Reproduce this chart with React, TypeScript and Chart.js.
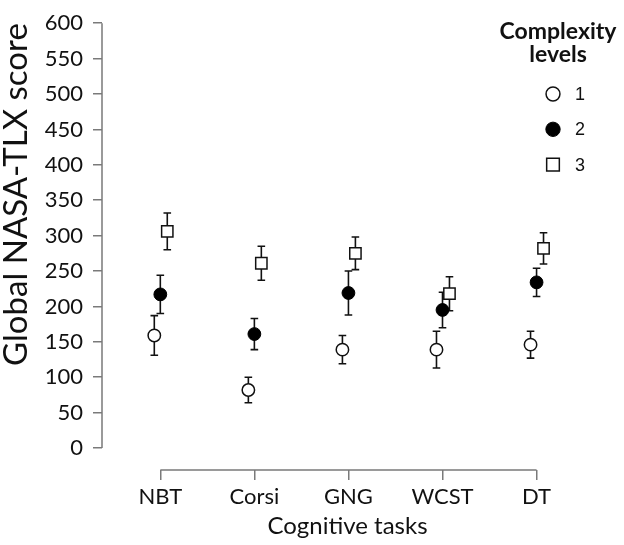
import { useEffect, useRef } from 'react';
import { Chart, registerables } from 'chart.js';
import { drawPoint } from 'chart.js/helpers';

Chart.register(...registerables);

// Cognitive tasks (x categories) and complexity levels
const tasks = ['NBT', 'Corsi', 'GNG', 'WCST', 'DT'];
const levels = ['1', '2', '3'];

// Global NASA-TLX score, mean and error per task
const level1Mean = [159, 82, 139, 139, 146];
const level1Err = [28, 18, 20, 26, 19];
const level2Mean = [217, 161, 219, 195, 234];
const level2Err = [27, 22, 31, 25, 20];
const level3Mean = [306, 261, 275, 218, 282];
const level3Err = [26, 24, 23, 24, 22];

const yTicks = [0, 50, 100, 150, 200, 250, 300, 350, 400, 450, 500, 550, 600];

const errors = [level1Err, level2Err, level3Err];
const jitter = [-0.064, 0, 0.074];
const axisColor = '#7a7a7a';
const fontFamily = 'Lato, "Open Sans", sans-serif';

const toPoints = (means: number[], k: number) =>
  means.map((v, i) => ({ x: i + jitter[k], y: v }));

const errorBars = {
  id: 'errorBars',
  beforeDatasetsDraw(chart: Chart) {
    const { ctx } = chart;
    const y = chart.scales.y;
    ctx.save();
    ctx.strokeStyle = '#111';
    ctx.lineWidth = 1.6;
    chart.data.datasets.forEach((ds, i) => {
      const meta = chart.getDatasetMeta(i);
      meta.data.forEach((el: any, j) => {
        const p = ds.data[j] as { x: number; y: number };
        const e = errors[i][j];
        const top = y.getPixelForValue(p.y + e);
        const bot = y.getPixelForValue(p.y - e);
        ctx.beginPath();
        ctx.moveTo(el.x, top);
        ctx.lineTo(el.x, bot);
        ctx.moveTo(el.x - 3.8, top);
        ctx.lineTo(el.x + 3.8, top);
        ctx.moveTo(el.x - 3.8, bot);
        ctx.lineTo(el.x + 3.8, bot);
        ctx.stroke();
      });
    });
    ctx.restore();
  },
};

const axisLines = {
  id: 'axisLines',
  beforeDatasetsDraw(chart: Chart) {
    const { ctx, chartArea } = chart;
    const { x, y } = chart.scales;
    ctx.save();
    ctx.strokeStyle = axisColor;
    ctx.lineWidth = 1.5;
    ctx.beginPath();
    ctx.moveTo(chartArea.left, y.getPixelForValue(yTicks[yTicks.length - 1]));
    ctx.lineTo(chartArea.left, y.getPixelForValue(yTicks[0]));
    ctx.moveTo(x.getPixelForValue(0), chartArea.bottom);
    ctx.lineTo(x.getPixelForValue(tasks.length - 1), chartArea.bottom);
    ctx.stroke();
    ctx.restore();
  },
};

// legend in the top right corner, drawn from the datasets' own styles
const cornerLegend = {
  id: 'cornerLegend',
  afterDraw(chart: Chart) {
    const { ctx } = chart;
    ctx.save();
    ctx.fillStyle = '#111';
    ctx.textAlign = 'center';
    ctx.textBaseline = 'alphabetic';
    ctx.font = `bold 23px ${fontFamily}`;
    ctx.fillText('Complexity', 558, 39);
    ctx.fillText('levels', 558, 62);
    ctx.font = '18px "Liberation Sans", Arial, sans-serif';
    ctx.textAlign = 'left';
    ctx.textBaseline = 'middle';
    chart.data.datasets.forEach((ds: any, i) => {
      const cy = 94 + i * 35.3;
      ctx.fillStyle = ds.backgroundColor;
      ctx.strokeStyle = ds.borderColor;
      ctx.lineWidth = ds.borderWidth;
      drawPoint(ctx, {
        pointStyle: ds.pointStyle,
        rotation: 0,
        radius: ds.pointRadius * 1.12,
        borderWidth: ds.borderWidth,
      }, 553, cy);
      ctx.fillStyle = '#111';
      ctx.fillText(ds.label, 575, cy + 1);
    });
    ctx.restore();
  },
};

export default function App() {
  const chartRef = useRef<HTMLCanvasElement>(null);
  const chartInstance = useRef<Chart | null>(null);

  useEffect(() => {
    if (!chartRef.current) return;
    if (chartInstance.current) chartInstance.current.destroy();

    chartInstance.current = new Chart(chartRef.current, {
      type: 'scatter',
      data: {
        datasets: [
          {
            label: levels[0],
            data: toPoints(level1Mean, 0),
            pointStyle: 'circle',
            pointRadius: 6.2,
            backgroundColor: '#ffffff',
            borderColor: '#111111',
            borderWidth: 1.5,
          },
          {
            label: levels[1],
            data: toPoints(level2Mean, 1),
            pointStyle: 'circle',
            pointRadius: 6.4,
            backgroundColor: '#000000',
            borderColor: '#000000',
            borderWidth: 1,
          },
          {
            label: levels[2],
            data: toPoints(level3Mean, 2),
            pointStyle: 'rect',
            pointRadius: 8,
            backgroundColor: '#ffffff',
            borderColor: '#111111',
            borderWidth: 1.5,
          },
        ],
      },
      options: {
        animation: false,
        responsive: true,
        maintainAspectRatio: false,
        events: [],
        layout: { padding: { top: 13, right: 31, left: 0, bottom: 0 } },
        plugins: {
          legend: { display: false },
          tooltip: { enabled: false },
        },
        scales: {
          x: {
            type: 'linear',
            position: 'bottom',
            min: -0.62,
            max: 4.6,
            afterFit: (scale) => {
              scale.height = 75;
            },
            afterBuildTicks: (scale) => {
              scale.ticks = tasks.map((_, i) => ({ value: i }));
            },
            border: { display: false },
            grid: {
              drawOnChartArea: false,
              drawTicks: true,
              tickLength: 10,
              color: axisColor,
              lineWidth: 1.5,
            },
            ticks: {
              padding: 4,
              color: '#111',
              font: { family: fontFamily, size: 22 },
              callback: (v) => tasks[v as number],
            },
            title: {
              display: true,
              text: 'Cognitive tasks',
              color: '#111',
              font: { family: fontFamily, size: 24 },
              padding: { top: 0, bottom: 4 },
            },
          },
          y: {
            type: 'linear',
            min: -31,
            max: 600,
            afterFit: (scale) => {
              scale.width = 102;
            },
            afterBuildTicks: (scale) => {
              scale.ticks = yTicks.map((v) => ({ value: v }));
            },
            border: { display: false },
            grid: {
              drawOnChartArea: false,
              drawTicks: true,
              tickLength: 9,
              color: axisColor,
              lineWidth: 1.5,
            },
            ticks: {
              padding: 10,
              color: '#111',
              font: { family: fontFamily, size: 22 },
            },
            title: {
              display: true,
              text: 'Global NASA-TLX score',
              align: 'end',
              color: '#111',
              font: { family: fontFamily, size: 33, lineHeight: 1 },
              padding: { top: 0, bottom: 0 },
            },
          },
        },
      },
      plugins: [axisLines, errorBars, cornerLegend],
    });

    return () => {
      if (chartInstance.current) {
        chartInstance.current.destroy();
        chartInstance.current = null;
      }
    };
  }, []);

  return (
    <div style={{ position: 'absolute', left: 0, top: 0, width: 624, height: 545 }}>
      <canvas ref={chartRef} />
    </div>
  );
}
